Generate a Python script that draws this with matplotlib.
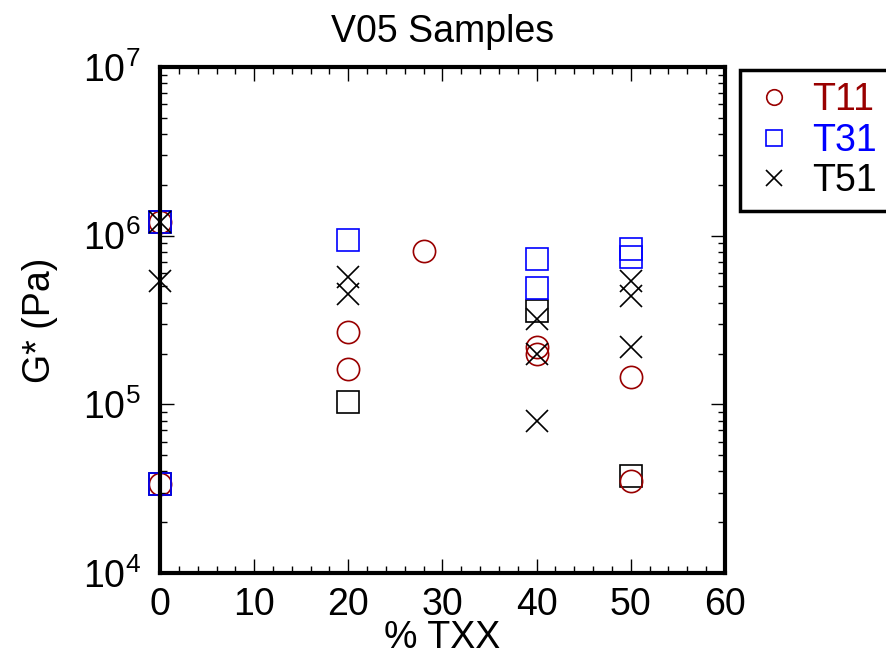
import numpy as np
import matplotlib
matplotlib.use('Agg')
import matplotlib.pyplot as plt
from matplotlib.ticker import MultipleLocator, LogLocator

plt.rcParams['font.family'] = ['Liberation Sans', 'DejaVu Sans']
plt.rcParams['mathtext.fontset'] = 'custom'
plt.rcParams['mathtext.rm'] = 'Liberation Sans'

# ------------------- Data ---------------------------------------------------
t11_x = [0, 0, 20, 20, 28, 40, 40, 50, 50]
t11_y = [1.2e6, 3.35e4, 2.68e5, 1.61e5, 8.1e5, 2.2e5, 2.0e5, 1.46e5, 3.5e4]

t31_x = [0, 0, 20, 40, 40, 50, 50]
t31_y = [1.2e6, 3.35e4, 9.4e5, 7.3e5, 4.9e5, 8.3e5, 7.5e5]

t51_x = [0, 0, 20, 20, 40, 40, 40, 50, 50, 50]
t51_y = [1.2e6, 5.4e5, 5.7e5, 4.5e5, 3.2e5, 1.98e5, 8.0e4, 5.4e5, 4.4e5, 2.2e5]

# black squares (not in the legend)
other_x = [0, 0, 20, 40, 50]
other_y = [1.2e6, 3.35e4, 1.03e5, 3.6e5, 3.77e4]

RED = '#990000'
BLUE = '#0000ff'
FS = 27

# ------------------- Plotting -----------------------------------------------
fig = plt.figure(figsize=(8.86, 6.62), dpi=100)
ax = fig.add_axes([0.1806, 0.1344, 0.6376, 0.7644])

ms = 16
ax.plot(other_x, other_y, 's', ms=ms, mfc='none', mec='black', mew=1.2, clip_on=False)
h1, = ax.plot(t11_x, t11_y, 'o', ms=ms, mfc='none', mec=RED, mew=1.2, clip_on=False)
h2, = ax.plot(t31_x, t31_y, 's', ms=ms, mfc='none', mec=BLUE, mew=1.2, clip_on=False)
h3, = ax.plot(t51_x, t51_y, 'x', ms=ms, mfc='none', mec='black', mew=1.2, clip_on=False)

ax.set_yscale('log')
ax.set_xlim(0, 60)
ax.set_ylim(1e4, 1e7)
ax.xaxis.set_major_locator(MultipleLocator(10))
ax.xaxis.set_minor_locator(MultipleLocator(2))
ax.yaxis.set_major_locator(LogLocator(base=10, numticks=10))
ax.yaxis.set_minor_locator(LogLocator(base=10, subs=np.arange(2, 10), numticks=20))
ax.yaxis.set_minor_formatter(plt.NullFormatter())

for s in ax.spines.values():
    s.set_linewidth(3)
ax.tick_params(which='both', direction='in', top=True, right=True, labelsize=FS)
ax.tick_params(which='major', length=10, width=1)
ax.tick_params(which='minor', length=5, width=1)
ax.tick_params(axis='x', pad=10)
ax.tick_params(axis='y', pad=14)

ax.set_xlabel('% TXX', fontsize=FS, labelpad=-2)
ax.set_ylabel('G* (Pa)', fontsize=FS, labelpad=18)
ax.set_title('V05 Samples', fontsize=FS, pad=18)

leg = ax.legend([h1, h2, h3], ['T11', 'T31', 'T51'], loc='upper left',
                bbox_to_anchor=(0.835, 0.894), bbox_transform=fig.transFigure,
                borderaxespad=0, fancybox=False, fontsize=FS, markerscale=0.7,
                handlelength=1.2, handletextpad=0.4, labelspacing=0.12,
                borderpad=0.32, framealpha=1)
leg.get_frame().set_edgecolor('black')
leg.get_frame().set_linewidth(2.5)
for txt, c in zip(leg.get_texts(), [RED, BLUE, 'black']):
    txt.set_color(c)

fig.savefig('out.png', dpi=100)
